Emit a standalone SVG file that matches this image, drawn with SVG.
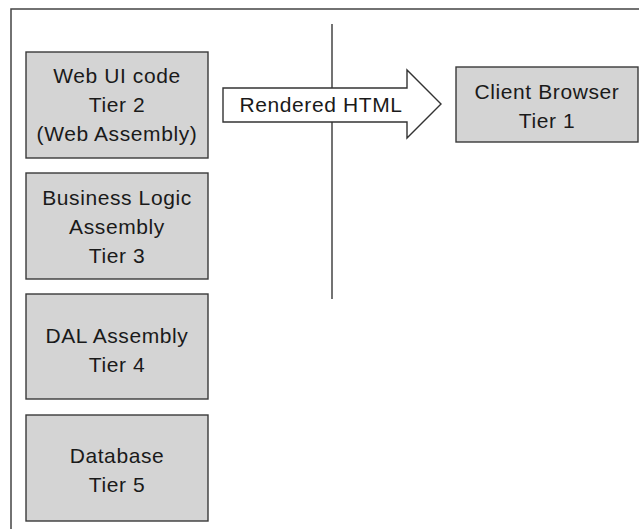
<svg xmlns="http://www.w3.org/2000/svg" width="639" height="529" viewBox="0 0 639 529">
<style>
.box{fill:#d4d4d4;stroke:#3a3a3a;stroke-width:1.4}
.t{font-family:"Liberation Sans",Arial,sans-serif;font-size:21px;letter-spacing:0.6px;fill:#1a1a1a;text-anchor:middle}
.line{stroke:#444;stroke-width:1.5;fill:none}
</style>
<rect width="639" height="529" fill="#ffffff"/>
<rect class="line" x="11" y="9" width="700" height="600"/>
<g id="connectors">
<line class="line" x1="332" y1="24" x2="332" y2="299"/>
<g id="rendered-html">
<polygon points="223,88 407,88 407,70 441,104 407,138 407,122 223,122" fill="#ffffff" stroke="#333" stroke-width="1.4"/>
<text class="t" x="321" y="112">Rendered HTML</text>
</g>
</g>
<g id="web-ui">
<rect class="box" x="26" y="52" width="182" height="106"/>
<text class="t" x="117" y="83">Web UI code</text>
<text class="t" x="117" y="112">Tier 2</text>
<text class="t" x="117" y="141">(Web Assembly)</text>
</g>
<g id="business-logic">
<rect class="box" x="26" y="173" width="182" height="106"/>
<text class="t" x="117" y="205">Business Logic</text>
<text class="t" x="117" y="234">Assembly</text>
<text class="t" x="117" y="263">Tier 3</text>
</g>
<g id="dal">
<rect class="box" x="26" y="294" width="182" height="105"/>
<text class="t" x="117" y="343">DAL Assembly</text>
<text class="t" x="117" y="372">Tier 4</text>
</g>
<g id="database">
<rect class="box" x="26" y="415" width="182" height="106"/>
<text class="t" x="117" y="463">Database</text>
<text class="t" x="117" y="492">Tier 5</text>
</g>
<g id="client-browser">
<rect class="box" x="456" y="67" width="182" height="75"/>
<text class="t" x="547" y="99">Client Browser</text>
<text class="t" x="547" y="128">Tier 1</text>
</g>
</svg>
